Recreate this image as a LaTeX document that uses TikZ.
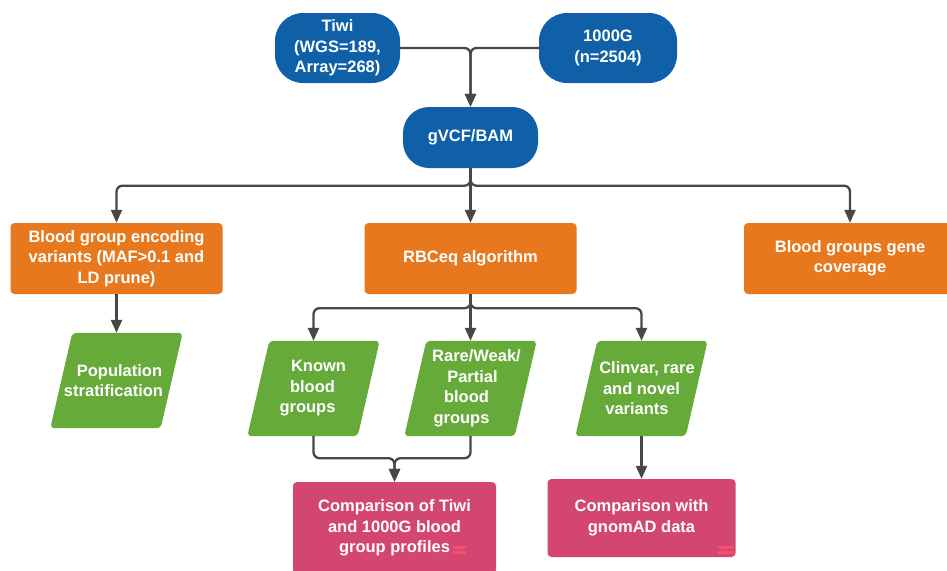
\documentclass[tikz,border=0pt]{standalone}
\usepackage{fontspec}
\setmainfont{Liberation Sans}
\usetikzlibrary{arrows.meta,calc}
\pgfdeclarelayer{background}
\pgfdeclarelayer{paper}
\pgfsetlayers{paper,background,main}
\definecolor{cblue}{HTML}{1060A8}
\definecolor{corange}{HTML}{E8781E}
\definecolor{cgreen}{HTML}{66AA3A}
\definecolor{cpink}{HTML}{D3466F}
\definecolor{cline}{HTML}{474747}
\definecolor{cmark}{HTML}{F2506E}
\tikzset{
  txt/.style={text=white, align=center, font=\fontsize{16.5}{20.5}\selectfont\bfseries, inner sep=0pt},
  pill/.style={txt, fill=cblue, rounded corners=28pt},
  obox/.style={txt, fill=corange, rounded corners=4pt, minimum width=212pt, minimum height=71pt},
  pbox/.style={txt, fill=cpink, rounded corners=4pt},
  para/.style={txt, minimum width=110pt, minimum height=95pt},
  conn/.style={draw=cline, line width=2.3pt, rounded corners=6pt},
  arr/.style={conn, -{Triangle[length=13pt,width=11pt]}},
}
\newcommand{\shiftline}[2]{\hbox to 0pt{\hss\kern#1pt\kern#1pt #2\hss}}
\newcommand{\paraback}[1]{%
  \begin{pgfonlayer}{background}
    \fill[cgreen, rounded corners=4pt]
      ($(#1.north west)+(11pt,0)$) -- ($(#1.north east)+(11pt,0)$) --
      ($(#1.south east)+(-11pt,0)$) -- ($(#1.south west)+(-11pt,0)$) -- cycle;
  \end{pgfonlayer}}
\begin{document}
\begin{tikzpicture}[x=1pt,y=-1pt]
\begin{pgfonlayer}{paper}
\fill[white] (0,0) rectangle (947,570);
\end{pgfonlayer}
\useasboundingbox (0,0) rectangle (947,570);

% top row
\node[pill, minimum width=125pt, minimum height=70pt] (tiwi) at (337.5,48) {Tiwi\\(WGS=189,\\Array=268)};
\node[pill, minimum width=138pt, minimum height=70pt] (kg) at (608,48) {1000G\\(n=2504)};
\node[pill, rounded corners=26pt, minimum width=135pt, minimum height=61pt] (gvcf) at (470.5,137.5) {gVCF/BAM};

% orange row
\node[obox] (bge) at (116.5,258.5) {Blood group encoding\\variants (MAF>0.1 and\\LD prune)};
\node[obox] (rbc) at (470.5,258.5) {RBCeq algorithm};
\node[obox] (cov) at (850,258.5) {Blood groups gene\\coverage};

% green parallelograms
\node[para] (pop) at (116.5,380.5) {\shiftline{3}{Population}\\\shiftline{-3}{stratification}};
\node[para] (known) at (313.5,388.5) {\shiftline{5}{Known}\\\shiftline{-1}{blood}\\\shiftline{-6}{groups}};
\node[para] (rare) at (470.5,388.5) {\shiftline{6}{Rare/Weak/}\\\shiftline{2}{Partial}\\\shiftline{-4}{blood}\\\shiftline{-9}{groups}};
\node[para] (clin) at (641.5,388.5) {\shiftline{5.5}{Clinvar, rare}\\\shiftline{0}{and novel}\\\shiftline{-4.5}{variants}};
\paraback{pop}
\paraback{known}
\paraback{rare}
\paraback{clin}

% pink boxes
\node[pbox, minimum width=203pt, minimum height=92pt] (cmp1) at (394.5,528) {Comparison of Tiwi\\and 1000G blood\\group profiles};
\node[pbox, minimum width=188pt, minimum height=78pt] (cmp2) at (641.5,518) {Comparison with\\gnomAD data};

% small red marks
\fill[cmark] (453,546) rectangle (466,548.5);
\fill[cmark] (453,551) rectangle (466,553.5);
\fill[cmark] (718,546) rectangle (734,548.5);
\fill[cmark] (718,551) rectangle (734,553.5);

% connectors
\draw[arr] (tiwi.east) -| (gvcf.north);
\draw[arr] (kg.west) -| (gvcf.north);
\draw[arr] (gvcf.south) -- ++(0,17.5) -| (bge.north);
\draw[arr] (gvcf.south) -- (rbc.north);
\draw[arr] (gvcf.south) -- ++(0,17.5) -| (cov.north);
\draw[arr] (bge.south) -- (pop.north);
\draw[arr] (rbc.south) -- ++(0,14) -| (known.north);
\draw[arr] (rbc.south) -- (rare.north);
\draw[arr] (rbc.south) -- ++(0,14) -| (clin.north);
\draw[arr] (known.south) -- ++(0,22) -| (cmp1.north);
\draw[arr] (rare.south) -- ++(0,22) -| (cmp1.north);
\draw[arr] (clin.south) -- (cmp2.north);
\end{tikzpicture}
\end{document}
